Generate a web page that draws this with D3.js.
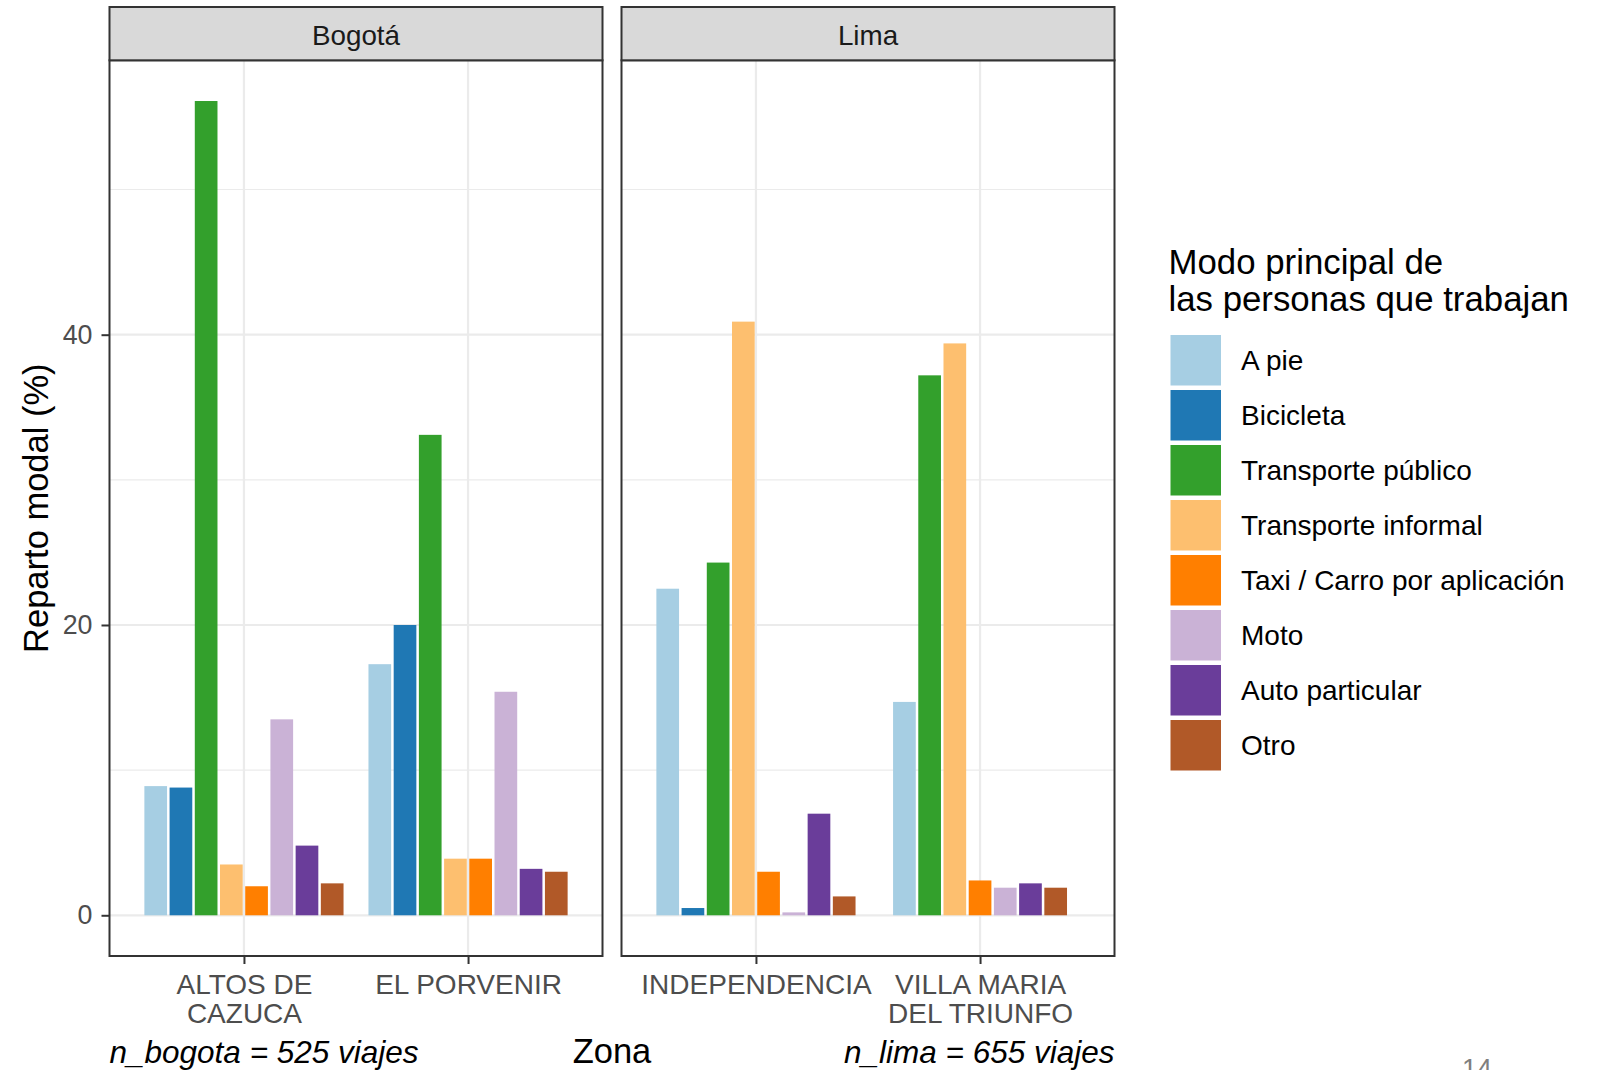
<!DOCTYPE html>
<html><head><meta charset="utf-8">
<script src="https://cdn.jsdelivr.net/npm/d3@7"></script>
<style>
html,body{margin:0;padding:0;background:#fff;}
svg text{font-family:"Liberation Sans",Arial,sans-serif;}
</style></head>
<body>
<svg id="chart" width="1603" height="1070"></svg>
<script>
// ---- data ----
const cities = ["Bogotá", "Lima"];
const zonesBogota = ["ALTOS DE\nCAZUCA", "EL PORVENIR"];
const zonesLima = ["INDEPENDENCIA", "VILLA MARIA\nDEL TRIUNFO"];
const modes = ["A pie", "Bicicleta", "Transporte público", "Transporte informal",
  "Taxi / Carro por aplicación", "Moto", "Auto particular", "Otro"];
const modeColors = ["#A6CEE3", "#1F78B4", "#33A02C", "#FDBF6F", "#FF7F00", "#CAB2D6", "#6A3D9A", "#B15928"];
const valAltos = [8.9, 8.8, 56.1, 3.5, 2.0, 13.5, 4.8, 2.2];
const valPorvenir = [17.3, 20.0, 33.1, 3.9, 3.9, 15.4, 3.2, 3.0];
const valIndependencia = [22.5, 0.5, 24.3, 40.9, 3.0, 0.2, 7.0, 1.3];
const valVilla = [14.7, null, 37.2, 39.4, 2.4, 1.9, 2.2, 1.9];
const yTicks = [0, 20, 40];
const yMinor = [10, 30, 50];
const yTitle = "Reparto modal (%)";
const xTitle = "Zona";
const legendTitle = ["Modo principal de", "las personas que trabajan"];
const captionLeft = "n_bogota = 525 viajes";
const captionRight = "n_lima = 655 viajes";
const pageNumber = "14";

const panelsData = [
  {city: cities[0], zones: zonesBogota, values: [valAltos, valPorvenir]},
  {city: cities[1], zones: zonesLima, values: [valIndependencia, valVilla]}
];

// ---- layout ----
const svg = d3.select("#chart");
const panelTop = 60.3, panelBottom = 956, stripTop = 7;
const panelX = [[109.5, 602.5], [621.5, 1114.5]];
const dark = "#333333";

const maxVal = d3.max([valAltos, valPorvenir, valIndependencia, valVilla].flat().filter(v => v != null));
const y = d3.scaleLinear().domain([-0.05 * maxVal, 1.05 * maxVal]).range([panelBottom, panelTop]);
const color = d3.scaleOrdinal().domain(modes).range(modeColors);

panelsData.forEach((p, pi) => {
  const [x0, x1] = panelX[pi];
  const g = svg.append("g");
  const x = d3.scalePoint().domain(p.zones).range([x0, x1]).padding(0.6);
  const step = x.step();

  // background
  g.append("rect").attr("x", x0).attr("y", panelTop).attr("width", x1 - x0).attr("height", panelBottom - panelTop).attr("fill", "#fff");
  // minor grid
  g.selectAll("line.ymin").data(yMinor).join("line")
    .attr("x1", x0).attr("x2", x1).attr("y1", d => y(d)).attr("y2", d => y(d))
    .attr("stroke", "#ebebeb").attr("stroke-width", 1.1);
  // major grid
  g.selectAll("line.ymaj").data(yTicks).join("line")
    .attr("x1", x0).attr("x2", x1).attr("y1", d => y(d)).attr("y2", d => y(d))
    .attr("stroke", "#ebebeb").attr("stroke-width", 2.2);
  g.selectAll("line.xmaj").data(p.zones).join("line")
    .attr("x1", d => x(d)).attr("x2", d => x(d)).attr("y1", panelTop).attr("y2", panelBottom)
    .attr("stroke", "#ebebeb").attr("stroke-width", 2.2);

  // bars (dodge2-like, centered, padding 0.1)
  const slot = 0.9 * step / modes.length;
  p.zones.forEach((z, zi) => {
    const present = modes.filter((m, mi) => p.values[zi][mi] != null);
    const inner = d3.scaleBand().domain(present)
      .range([-present.length * slot / 2, present.length * slot / 2])
      .paddingInner(0.1).paddingOuter(0.05);
    g.append("g").selectAll("rect").data(present).join("rect")
      .attr("x", m => x(z) + inner(m))
      .attr("width", inner.bandwidth())
      .attr("y", m => y(p.values[zi][modes.indexOf(m)]))
      .attr("height", m => y(0) - y(p.values[zi][modes.indexOf(m)]))
      .attr("fill", m => color(m));
  });

  // panel border
  g.append("rect").attr("x", x0).attr("y", panelTop).attr("width", x1 - x0).attr("height", panelBottom - panelTop)
    .attr("fill", "none").attr("stroke", dark).attr("stroke-width", 2);
  // strip
  g.append("rect").attr("x", x0).attr("y", stripTop).attr("width", x1 - x0).attr("height", panelTop - stripTop)
    .attr("fill", "#d9d9d9").attr("stroke", dark).attr("stroke-width", 2);
  g.append("text").attr("x", (x0 + x1) / 2).attr("y", 44.5).attr("text-anchor", "middle")
    .attr("font-size", 27.8).attr("fill", "#1a1a1a").text(p.city);

  // x axis
  const xa = g.append("g").attr("transform", `translate(0,${panelBottom})`)
    .call(d3.axisBottom(x).tickSize(8).tickFormat(""));
  xa.select(".domain").remove();
  xa.selectAll(".tick line").attr("stroke", dark).attr("stroke-width", 2);
  xa.selectAll(".tick").each(function(d) {
    const lines = d.split("\n");
    const t = d3.select(this).append("text").attr("text-anchor", "middle")
      .attr("font-size", 28).attr("fill", "#4d4d4d");
    lines.forEach((l, i) => t.append("tspan").attr("x", 0).attr("y", 37.5 + i * 29.5).text(l));
  });

  if (pi === 0) {
    const ya = g.append("g").attr("transform", `translate(${x0},0)`)
      .call(d3.axisLeft(y).tickValues(yTicks).tickSize(8).tickPadding(9));
    ya.select(".domain").remove();
    ya.selectAll(".tick line").attr("stroke", dark).attr("stroke-width", 2);
    ya.selectAll(".tick text").attr("font-size", 26.8).attr("fill", "#4d4d4d")
      .attr("font-family", "Liberation Sans, Arial, sans-serif");
  }
});

// y title
svg.append("text").attr("transform", `translate(48,${(panelTop + panelBottom) / 2}) rotate(-90)`)
  .attr("text-anchor", "middle").attr("font-size", 34.5).attr("fill", "#000").text(yTitle);

// x title & captions
svg.append("text").attr("x", (panelX[0][0] + panelX[1][1]) / 2).attr("y", 1063)
  .attr("text-anchor", "middle").attr("font-size", 34.5).attr("fill", "#000").text(xTitle);
svg.append("text").attr("x", panelX[0][0]).attr("y", 1063).attr("font-style", "italic")
  .attr("font-size", 31.5).attr("fill", "#000").text(captionLeft);
svg.append("text").attr("x", panelX[1][1]).attr("y", 1063).attr("text-anchor", "end").attr("font-style", "italic")
  .attr("font-size", 31.5).attr("fill", "#000").text(captionRight);

// legend
const lg = svg.append("g");
legendTitle.forEach((t, i) => lg.append("text").attr("x", 1168.5).attr("y", 274 + i * 36.5)
  .attr("font-size", 34.8).attr("fill", "#000").text(t));
const keyTop = 335, keyPitch = 55, keySize = 50.5;
lg.selectAll("rect.key").data(modes).join("rect")
  .attr("x", 1170.5).attr("y", (d, i) => keyTop + i * keyPitch)
  .attr("width", keySize).attr("height", keySize).attr("fill", d => color(d));
lg.selectAll("text.lab").data(modes).join("text")
  .attr("x", 1241).attr("y", (d, i) => keyTop + i * keyPitch + keySize / 2 + 10)
  .attr("font-size", 28).attr("fill", "#000").text(d => d);

// page number (cut at the bottom edge, as in the reference)
svg.append("text").attr("x", 1477).attr("y", 1078).attr("text-anchor", "middle")
  .attr("font-size", 27).attr("fill", "#7f7f7f").text(pageNumber);
</script>
</body></html>
